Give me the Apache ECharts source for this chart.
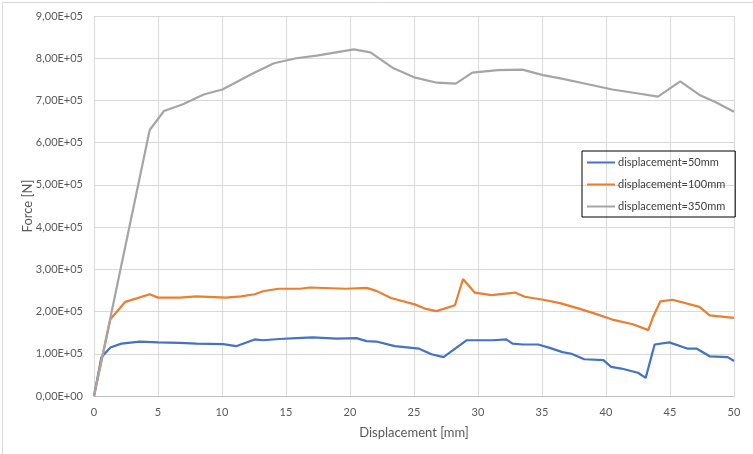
<!DOCTYPE html>
<html>
<head>
<meta charset="utf-8">
<script src="https://cdn.jsdelivr.net/npm/echarts@6/dist/echarts.min.js"></script>
<style>
html,body{margin:0;padding:0;background:#fff;}
#c{width:753px;height:454px;}
</style>
</head>
<body>
<div id="c"></div>
<script>
var seriesNames = ['displacement=50mm', 'displacement=100mm', 'displacement=350mm'];
var xTicks = [0, 5, 10, 15, 20, 25, 30, 35, 40, 45, 50];

var blueX = [0, 0.58, 1.28, 2.14, 3.57, 5.0, 6.7, 8.0, 10.1, 11.1, 12.55, 13.2, 14.5, 15.8, 17.1, 18.95, 20.5, 21.3, 22.06, 23.5, 25.4, 26.36, 27.3, 29.1, 31.2, 32.2, 32.7, 33.5, 34.7, 35.6, 36.6, 37.3, 38.3, 39.8, 40.4, 41.2, 42.5, 43.1, 43.8, 44.95, 46.4, 47.1, 48.1, 49.5, 50];
var blueY = [0, 92000, 115000, 124000, 129000, 127000, 126000, 124000, 123000, 118000, 134000, 132000, 135000, 137000, 139000, 136000, 137000, 130000, 129000, 118000, 112000, 99000, 92000, 132000, 132000, 134000, 124000, 122000, 122000, 114000, 104000, 100000, 87000, 85000, 69000, 65000, 55000, 43000, 122000, 127000, 112000, 112000, 94000, 92000, 83000];

var orangeX = [0, 1.28, 2.45, 4.35, 5.0, 6.7, 8.0, 10.3, 11.5, 12.55, 13.2, 14.4, 16.1, 16.85, 19.7, 21.3, 22.06, 23.2, 25.06, 25.84, 26.75, 28.2, 28.83, 29.74, 31.05, 32.9, 33.66, 35.1, 36.4, 37.9, 39.25, 40.5, 42.1, 43.3, 43.7, 44.24, 45.2, 47.3, 48.1, 50];
var orangeY = [0, 182000, 223000, 241000, 233000, 233000, 236000, 233000, 236000, 241000, 248000, 254000, 254000, 257000, 254000, 256000, 249000, 232000, 217000, 207000, 201000, 215000, 277000, 245000, 239000, 245000, 235000, 228000, 220000, 207000, 194000, 181000, 170000, 156000, 189000, 224000, 228000, 211000, 191000, 185000];

var grayX = [0, 4.35, 5.47, 6.95, 8.57, 10.03, 12.4, 14.06, 15.8, 17.4, 20.3, 21.6, 23.4, 25.1, 26.8, 28.26, 29.56, 31.56, 33.47, 35.08, 36.64, 38.5, 40.5, 42.4, 44.06, 45.8, 47.3, 48.5, 50];
var grayY = [0, 630000, 675000, 691000, 714000, 726000, 764000, 788000, 800000, 806000, 821000, 814000, 776000, 754000, 742000, 740000, 766000, 772000, 773000, 760000, 751000, 739000, 726000, 717000, 709000, 745000, 713000, 697000, 673000];

function pairs(xs, ys) { return xs.map(function (x, i) { return [x, ys[i]]; }); }

var colors = ['#4472C4', '#ED7D31', '#A5A5A5'];
var font = 'Lato';
var chart = echarts.init(document.getElementById('c'), null, {renderer: 'canvas'});
chart.setOption({
  animation: false,
  backgroundColor: '#fff',
  textStyle: {fontFamily: font},
  graphic: [{
    type: 'rect', left: 0, top: 0, z: -1,
    shape: {x: 0.5, y: 0.5, width: 752, height: 453},
    style: {fill: 'none', stroke: '#d9d9d9', lineWidth: 1}
  }],
  grid: {left: 94, right: 19, top: 16, bottom: 58},
  legend: {
    orient: 'vertical', left: 582, top: 151,
    data: seriesNames,
    icon: 'rect', itemWidth: 28, itemHeight: 2, itemGap: 11,
    padding: [6, 10, 5, 5],
    borderColor: '#000', borderWidth: 1,
    textStyle: {fontFamily: font, fontSize: 11, color: '#404040', padding: [0, 0, 0, -2]}
  },
  xAxis: {
    type: 'value', min: 0, max: 50, interval: 5,
    name: 'Displacement [mm]', nameLocation: 'middle', nameGap: 30,
    nameMoveOverlap: false,
    nameTextStyle: {fontFamily: font, fontSize: 13, color: '#595959'},
    axisLine: {show: true, lineStyle: {color: '#bfbfbf', width: 1}},
    axisTick: {show: false},
    axisLabel: {fontFamily: font, fontSize: 11, color: '#595959', margin: 11},
    splitLine: {show: true, lineStyle: {color: '#d9d9d9', width: 1}}
  },
  yAxis: {
    type: 'value', min: 0, max: 900000, interval: 100000,
    name: 'Force [N]', nameLocation: 'middle', nameGap: 60, nameRotate: 90,
    nameMoveOverlap: false,
    nameTextStyle: {fontFamily: font, fontSize: 13, color: '#595959'},
    axisLine: {show: false},
    axisTick: {show: false},
    axisLabel: {
      fontFamily: font, fontSize: 11, color: '#595959', margin: 11,
      formatter: function (v) {
        if (v === 0) return '0,00E+00';
        return (v / 100000).toFixed(2).replace('.', ',') + 'E+05';
      }
    },
    splitLine: {show: true, lineStyle: {color: '#d9d9d9', width: 1}}
  },
  series: [
    {name: seriesNames[0], type: 'line', data: pairs(blueX, blueY), showSymbol: false, symbol: 'none', color: colors[0], lineStyle: {width: 2.2, color: colors[0]}},
    {name: seriesNames[1], type: 'line', data: pairs(orangeX, orangeY), showSymbol: false, symbol: 'none', color: colors[1], lineStyle: {width: 2.2, color: colors[1]}},
    {name: seriesNames[2], type: 'line', data: pairs(grayX, grayY), showSymbol: false, symbol: 'none', color: colors[2], lineStyle: {width: 2.2, color: colors[2]}}
  ]
});
</script>
</body>
</html>
